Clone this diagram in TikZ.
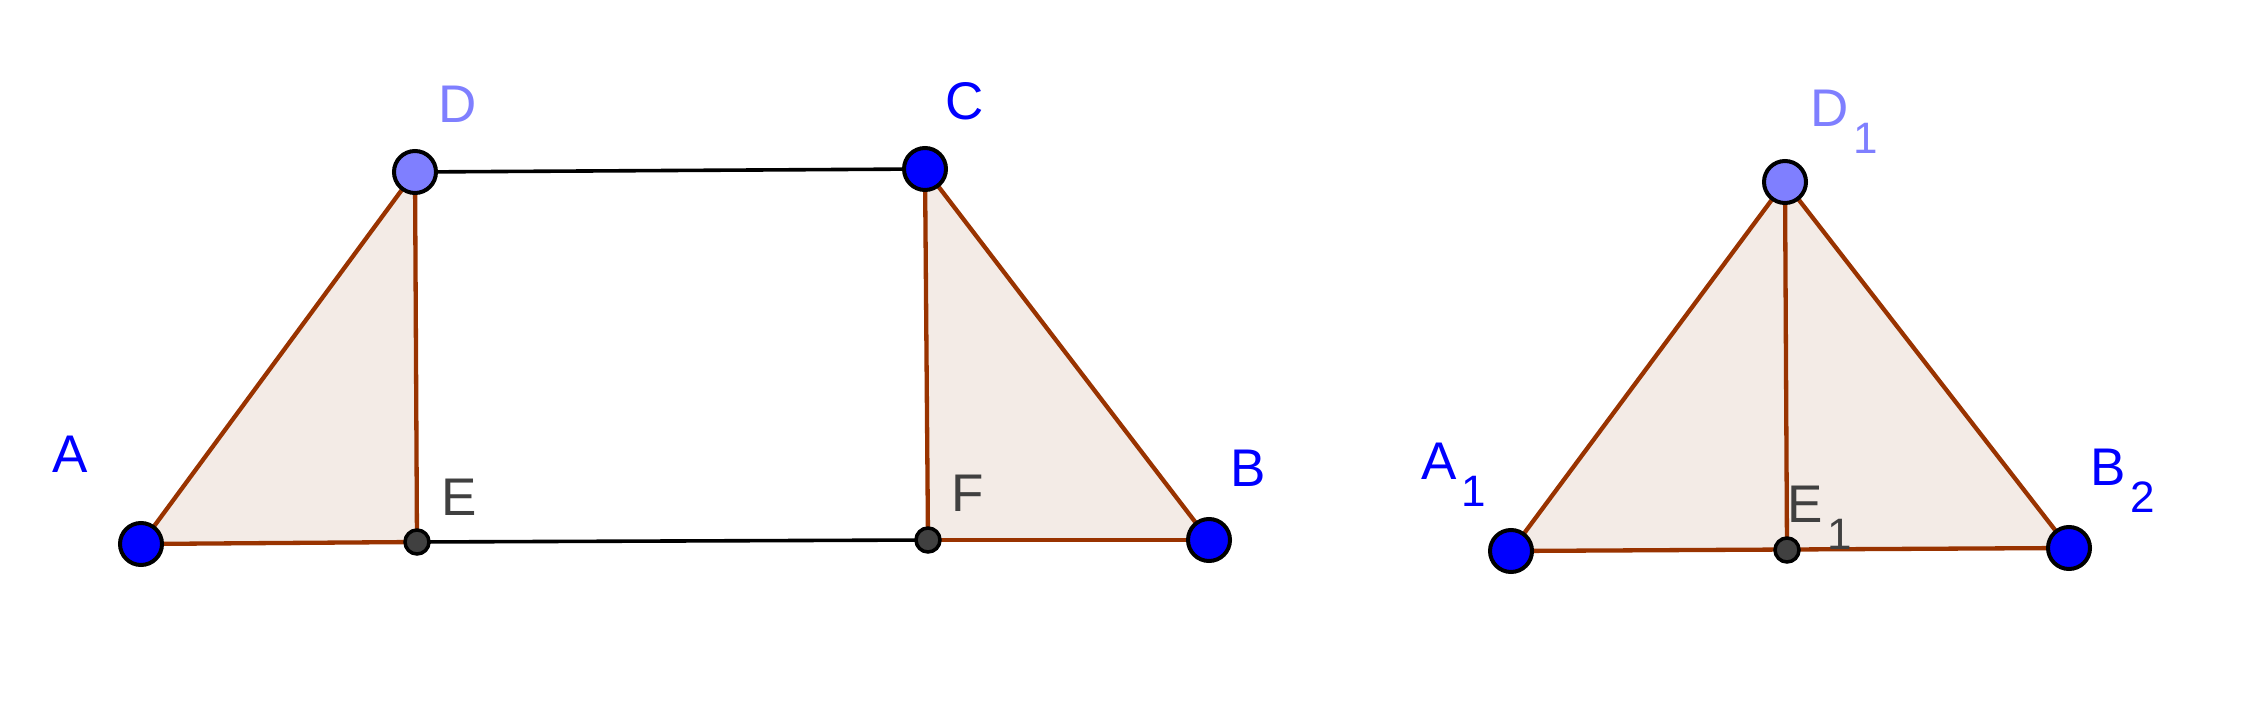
\documentclass[tikz,border=0pt]{standalone}
\usepackage{fontspec}
\setmainfont{Liberation Sans}

\definecolor{ptblue}{HTML}{0000FF}
\definecolor{ptlight}{HTML}{7F7FFF}
\definecolor{ptgrey}{HTML}{404040}
\definecolor{segbrown}{HTML}{993300}
\definecolor{polyfill}{HTML}{F3EBE6}

\newcommand{\sublab}[2]{#1\hspace{5pt}\raisebox{-27pt}{\fontsize{44}{50}\selectfont #2}}

\begin{document}
\begin{tikzpicture}[x=1pt,y=-1pt,
    seg/.style={draw=segbrown, line width=4.3pt},
    plain/.style={draw=black, line width=3.6pt},
    freept/.style={fill=ptblue, draw=black, line width=4pt},
    lightpt/.style={fill=ptlight, draw=black, line width=4pt},
    footpt/.style={fill=ptgrey, draw=black, line width=3.5pt},
    lab/.style={anchor=base west, inner sep=0pt, font=\fontsize{53}{60}\selectfont}]

	\useasboundingbox (0,0) rectangle (2262,727);

	% trapezium
	\coordinate (A) at (141,544); \coordinate (E) at (417,542);
	\coordinate (F) at (928,540); \coordinate (B) at (1209,540);
	\coordinate (D) at (415,172); \coordinate (C) at (925,169);
	% triangle
	\coordinate (A1) at (1511,551); \coordinate (E1) at (1787,550);
	\coordinate (B2) at (2069,548); \coordinate (D1) at (1785,182);

	\fill[polyfill] (A) -- (E) -- (D) -- cycle;
	\fill[polyfill] (F) -- (B) -- (C) -- cycle;
	\fill[polyfill] (A1) -- (B2) -- (D1) -- cycle;

	\draw[plain] (D) -- (C); \draw[plain] (E) -- (F);
	\draw[seg] (A) -- (E); \draw[seg] (A) -- (D); \draw[seg] (D) -- (E);
	\draw[seg] (F) -- (B); \draw[seg] (C) -- (B); \draw[seg] (C) -- (F);
	\draw[seg] (A1) -- (B2); \draw[seg] (A1) -- (D1);
	\draw[seg] (D1) -- (B2); \draw[seg] (D1) -- (E1);

	\draw[freept] (A) circle(21pt); \draw[freept] (B) circle(21pt);
	\draw[freept] (C) circle(21pt); \draw[lightpt] (D) circle(21pt);
	\draw[footpt] (E) circle(12pt); \draw[footpt] (F) circle(12pt);
	\draw[freept] (A1) circle(21pt); \draw[freept] (B2) circle(21pt);
	\draw[lightpt] (D1) circle(21pt); \draw[footpt] (E1) circle(12pt);

	\node[lab, text=ptlight] (labD) at (438,123) {D};
	\node[lab, text=ptblue] (labC) at (945,120) {C};
	\node[lab, text=ptblue] (labA) at (52,472) {A};
	\node[lab, text=ptgrey] (labE) at (441,515) {E};
	\node[lab, text=ptgrey] (labF) at (951,511) {F};
	\node[lab, text=ptblue] (labB) at (1230,486) {B};
	\node[lab, text=ptblue] (labA1) at (1421,479) {\sublab{A}{1}};
	\node[lab, text=ptlight] (labD1) at (1810,127) {\sublab{D}{1}};
	\node[lab, text=ptgrey] (labE1) at (1787,522) {\sublab{E}{1}};
	\node[lab, text=ptblue] (labB2) at (2090,485) {\sublab{B}{2}};
\end{tikzpicture}
\end{document}
